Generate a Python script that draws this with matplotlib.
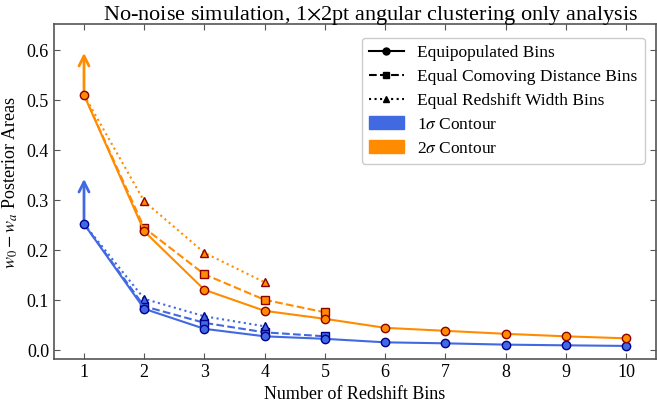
import matplotlib
matplotlib.use('Agg')
import matplotlib.pyplot as plt
from matplotlib.lines import Line2D
from matplotlib.patches import Patch

plt.rcParams['font.family'] = 'Liberation Serif'
plt.rcParams['mathtext.fontset'] = 'stix'

bins_all = [1, 2, 3, 4, 5, 6, 7, 8, 9, 10]
bins_cd = [1, 2, 3, 4, 5]
bins_rw = [1, 2, 3, 4]

# 2 sigma contour areas
eq_2s = [0.511, 0.238, 0.121, 0.079, 0.063, 0.045, 0.039, 0.033, 0.028, 0.024]
cd_2s = [0.511, 0.245, 0.152, 0.101, 0.076]
rw_2s = [0.511, 0.298, 0.195, 0.136]

# 1 sigma contour areas
eq_1s = [0.253, 0.083, 0.043, 0.028, 0.023, 0.016, 0.014, 0.0114, 0.010, 0.0088]
cd_1s = [0.253, 0.088, 0.055, 0.036, 0.028]
rw_1s = [0.253, 0.103, 0.068, 0.048]

# arrow tips at 1 bin
arrow_2s = 0.595
arrow_1s = 0.343

c1 = 'royalblue'
c2 = 'darkorange'
e1 = 'darkblue'
e2 = 'darkred'
ms = 6

fig, ax = plt.subplots(figsize=(6.57, 4.05), dpi=100)
fig.subplots_adjust(left=0.082, right=0.999, bottom=0.114, top=0.941)

ax.plot(bins_cd, cd_1s, '--s', color=c1, mfc=c1, mec=e1, ms=ms, lw=1.5, markevery=slice(1, None), zorder=3)
ax.plot(bins_rw, rw_1s, ':^', color=c1, mfc=c1, mec=e1, ms=ms, lw=1.5, markevery=slice(1, None), zorder=3)
ax.plot(bins_all, eq_1s, '-o', color=c1, mfc=c1, mec=e1, ms=ms, lw=1.5, zorder=4)
ax.plot(bins_cd, cd_2s, '--s', color=c2, mfc=c2, mec=e2, ms=ms, lw=1.5, markevery=slice(1, None), zorder=3)
ax.plot(bins_rw, rw_2s, ':^', color=c2, mfc=c2, mec=e2, ms=ms, lw=1.5, markevery=slice(1, None), zorder=3)
ax.plot(bins_all, eq_2s, '-o', color=c2, mfc=c2, mec=e2, ms=ms, lw=1.5, zorder=4)

ax.annotate('', xy=(1, arrow_2s), xytext=(1, eq_2s[0]),
            arrowprops=dict(arrowstyle='->', color=c2, lw=2, mutation_scale=18,
                            shrinkA=0, shrinkB=0))
ax.annotate('', xy=(1, arrow_1s), xytext=(1, eq_1s[0]),
            arrowprops=dict(arrowstyle='->', color=c1, lw=2, mutation_scale=18,
                            shrinkA=0, shrinkB=0))

ax.set_xlim(0.5, 10.5)
ax.set_ylim(-0.017, 0.653)
ax.set_xticks(bins_all)
ax.set_yticks([0.0, 0.1, 0.2, 0.3, 0.4, 0.5, 0.6])
ax.tick_params(direction='in', top=True, right=True, labelsize=13, length=4,
               color='#555555')
for s in ax.spines.values():
    s.set_color('#555555')
    s.set_linewidth(1.2)

ax.set_xlabel('Number of Redshift Bins', fontsize=13)
ax.set_ylabel('$w_0 - w_a$ Posterior Areas', fontsize=13, y=0.528, labelpad=5)
ax.set_title('No-noise simulation, 1$\\times$2pt angular clustering only analysis',
             fontsize=16, pad=3, x=0.526)

handles = [
    Line2D([], [], color='k', ls='-', marker='o', ms=5),
    Line2D([], [], color='k', ls='--', marker='s', ms=5),
    Line2D([], [], color='k', ls=':', marker='^', ms=5),
    Patch(color=c1),
    Patch(color=c2),
]
labels = ['Equipopulated Bins', 'Equal Comoving Distance Bins',
          'Equal Redshift Width Bins', '1$\\sigma$ Contour', '2$\\sigma$ Contour']
ax.legend(handles, labels, loc='upper right', fontsize=12.5, framealpha=1,
          edgecolor='#cccccc', bbox_to_anchor=(0.995, 0.985),
          labelspacing=0.45)

fig.savefig('out.png', dpi=100)
